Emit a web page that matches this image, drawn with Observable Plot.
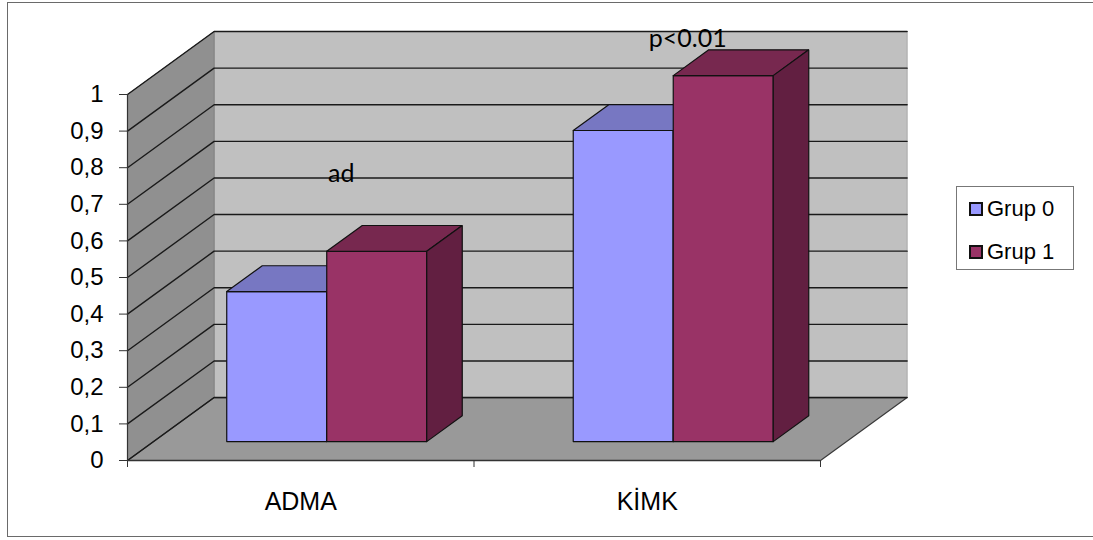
<!DOCTYPE html>
<html>
<head>
<meta charset="utf-8">
<script src="https://cdn.jsdelivr.net/npm/d3@7"></script>
<script src="https://cdn.jsdelivr.net/npm/@observablehq/plot@0.6"></script>
<style>
  html, body { margin: 0; padding: 0; background: #fff; }
  #wrap { position: relative; width: 1093px; height: 540px; overflow: hidden; }
  #frame { position: absolute; left: 7px; top: 2px; width: 1100px; height: 535px; border: 1.5px solid #6a6a6a; box-sizing: border-box; pointer-events: none; }
  #chart { position: absolute; left: 0; top: 0; }
  #legend { position: absolute; left: 956px; top: 186px; width: 118px; height: 84px; border: 1px solid #777; background: #fff; box-sizing: border-box; font-family: "Liberation Sans", Arial, sans-serif; font-size: 22px; color: #000; }
  .item { position: absolute; left: 12px; display: flex; align-items: center; }
  .sw { width: 10px; height: 10px; border: 2px solid #111; margin-right: 4px; }
</style>
</head>
<body>
<div id="wrap">
  <div id="chart"></div>
  <div id="frame"></div>
  <div id="legend"></div>
</div>
<script>
// ---- data ----
const categories = ["ADMA", "KİMK"];
const seriesNames = ["Grup 0", "Grup 1"];
const grup0 = [0.41, 0.85];
const grup1 = [0.52, 1.0];
const yTicks = [0, 0.1, 0.2, 0.3, 0.4, 0.5, 0.6, 0.7, 0.8, 0.9, 1];
const yTickLabels = ["0", "0,1", "0,2", "0,3", "0,4", "0,5", "0,6", "0,7", "0,8", "0,9", "1"];
const annotationCats = ["ADMA", "KİMK"];
const annotationTexts = ["ad", "p<0.01"];

// ---- styles / layout ----
const frontColors = ["#9999ff", "#993366"];
const topColors = ["#7777c2", "#77284f"];
const sideColors = ["#5c5c9c", "#621f41"];
const DX = 0.25, DY = 0.172;   // oblique depth offsets in data units
const Z0 = 0.3, Z1 = 0.71;     // bar depth span
const BW = 0.2886;             // bar width in x units
const PXX = 2 / 693, PXY = 1 / 366;

const proj = ([x, v, z]) => ({px: x + z * DX, py: v + z * DY});
function poly(pts, fill, stroke, sw) {
  const data = pts.concat([pts[0]]).map(proj);
  return Plot.line(data, {x: "px", y: "py", fill, stroke, strokeWidth: sw, strokeLinejoin: "miter", clip: false});
}

const marks = [];
// walls and floor
marks.push(poly([[0,0,1],[2,0,1],[2,1,1],[0,1,1]], "#c0c0c0", "#a8a8a8", 1));
marks.push(poly([[0,0,0],[0,0,1],[0,1,1],[0,1,0]], "#909090", "#808080", 1));
marks.push(poly([[0,0,0],[2,0,0],[2,0,1],[0,0,1]], "#999999", "#3a3a3a", 1.2));
// gridlines
for (const v of yTicks) {
  const g = [[0,v,0],[0,v,1],[2,v,1]].map(proj);
  marks.push(Plot.line(g, {x: "px", y: "py", stroke: "#1a1a1a", strokeWidth: 1.4}));
}
// bars (painter's order left to right)
categories.forEach((c, i) => {
  const center = i + 0.5;
  [grup0[i], grup1[i]].forEach((v, s) => {
    const x0 = center + (s - 1) * BW, x1 = x0 + BW;
    marks.push(poly([[x0,0,Z0],[x1,0,Z0],[x1,v,Z0],[x0,v,Z0]], frontColors[s], "#111", 1.2));
    marks.push(poly([[x0,v,Z0],[x1,v,Z0],[x1,v,Z1],[x0,v,Z1]], topColors[s], "#111", 1.2));
    marks.push(poly([[x1,0,Z0],[x1,0,Z1],[x1,v,Z1],[x1,v,Z0]], sideColors[s], "#111", 1.2));
  });
});
// axes
marks.push(Plot.ruleX([0], {y1: 0, y2: 1, stroke: "#333", strokeWidth: 1.2}));
marks.push(Plot.ruleY([0], {x1: 0, x2: 2, stroke: "#333", strokeWidth: 1.5}));
marks.push(Plot.ruleY(yTicks, {x1: -8 * PXX, x2: 0, stroke: "#333", strokeWidth: 1}));
marks.push(Plot.ruleX([0, 1, 2], {y1: 0, y2: -7 * PXY, stroke: "#333", strokeWidth: 1}));
marks.push(Plot.text(yTicks, {x: 0, y: d => d, text: (d, i) => yTickLabels[i], dx: -24, textAnchor: "end",
  fontSize: 24, fontFamily: "Liberation Sans, Arial, sans-serif", fill: "#000"}));
marks.push(Plot.text(categories, {x: (d, i) => i + 0.5, y: 0, dy: 41, text: d => d,
  fontSize: 25, fontFamily: "Liberation Sans, Arial, sans-serif", fill: "#000"}));
// annotations
const annY = [0.784, 1.153];
marks.push(Plot.text(annotationTexts, {x: (d, i) => categories.indexOf(annotationCats[i]) + 0.617, y: (d, i) => annY[i],
  text: d => d, fontSize: 25, fontFamily: "Lato, 'Open Sans', sans-serif", fill: "#000"}));

const chart = Plot.plot({
  width: 1093, height: 540,
  x: {type: "linear", domain: [0, 2], range: [127, 820], axis: null},
  y: {type: "linear", domain: [0, 1], range: [460, 94], axis: null},
  style: {background: "transparent", overflow: "visible"},
  marks
});
document.getElementById("chart").appendChild(chart);

// legend
const lg = document.getElementById("legend");
seriesNames.forEach((n, i) => {
  const it = document.createElement("div");
  it.className = "item";
  it.style.top = (i === 0 ? 9 : 52) + "px";
  it.innerHTML = `<div class="sw" style="background:${frontColors[i]}"></div><span>${n}</span>`;
  lg.appendChild(it);
});
</script>
</body>
</html>
